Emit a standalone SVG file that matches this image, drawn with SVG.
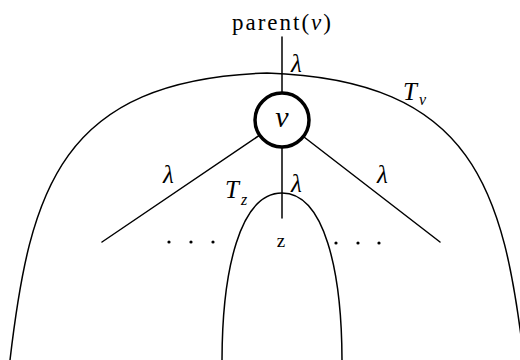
<svg xmlns="http://www.w3.org/2000/svg" width="520" height="360" viewBox="0 0 520 360">
<style>
.ln{fill:none;stroke:#000;stroke-width:1.5;stroke-linecap:round}
text{font-family:'Liberation Serif','DejaVu Serif',serif;fill:#000}
.it{font-style:italic}
</style>
<rect width="520" height="360" fill="#fff"/>
<g id="regions">
<path id="Tv-outline" class="ln" d="M 10 360 C 30 190, 60 80, 267 73 C 474 80, 504 190, 524 360"/>
<path id="Tz-outline" class="ln" d="M 222 362 C 222 270, 240 193, 282 193 C 324 193, 342 270, 342 362"/>
</g>
<g id="connectors">
<line class="ln" x1="282" y1="37" x2="282" y2="120"/>
<line class="ln" x1="282" y1="120" x2="102" y2="242"/>
<line class="ln" x1="282" y1="120" x2="440" y2="242"/>
<line class="ln" x1="282" y1="120" x2="282" y2="218"/>
</g>
<g id="labels">
<text class="it" x="291" y="72" font-size="25">λ</text>
<text class="it" x="163" y="183" font-size="25">λ</text>
<text class="it" x="377" y="183" font-size="25">λ</text>
<text class="it" x="291" y="192" font-size="25">λ</text>
<text class="it" x="403" y="100" font-size="25">T</text>
<text class="it" x="419" y="105" font-size="16">v</text>
<text class="it" x="225" y="198" font-size="25">T</text>
<text class="it" x="241" y="205" font-size="16">z</text>
</g>
<g id="parent">
<text x="232" y="30" font-size="23" textLength="99">parent(<tspan class="it">v</tspan>)</text>
</g>
<g id="node-v">
<circle cx="282" cy="120" r="27" fill="#fff" stroke="#000" stroke-width="3.5"/>
<text class="it" x="282" y="127" font-size="30" text-anchor="middle">v</text>
</g>
<g id="node-z">
<text x="281" y="247" font-size="19" text-anchor="middle">z</text>
</g>
<g id="dots">
<circle cx="169" cy="242" r="1.6"/>
<circle cx="191" cy="242" r="1.6"/>
<circle cx="213" cy="242" r="1.6"/>
<circle cx="336" cy="243" r="1.6"/>
<circle cx="358" cy="243" r="1.6"/>
<circle cx="379" cy="243" r="1.6"/>
</g>
</svg>
